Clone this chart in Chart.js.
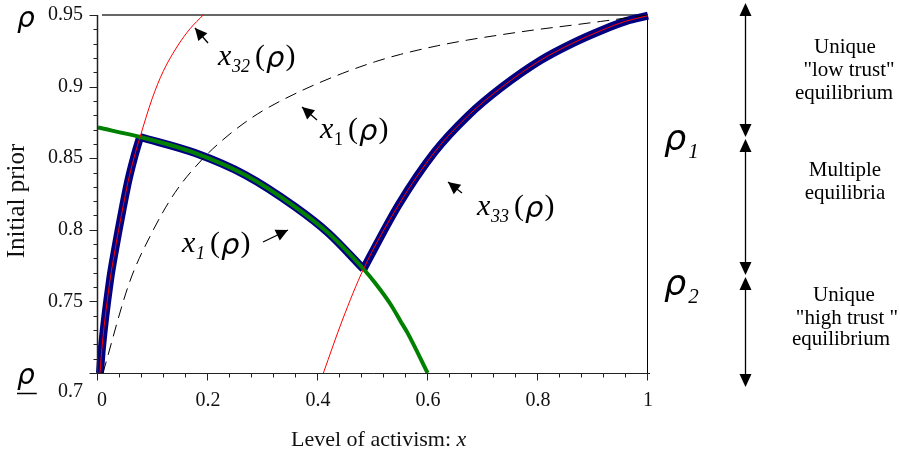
<!DOCTYPE html>
<html><head><meta charset="utf-8">
<script src="https://cdn.jsdelivr.net/npm/chart.js@4.4.1/dist/chart.umd.min.js"></script>
<style>html,body{margin:0;padding:0;background:#fff;overflow:hidden}#wrap{width:900px;height:463px;position:relative}</style>
</head><body><div id="wrap"><canvas id="c" width="900" height="463"></canvas></div>
<script>
// ---- tick values / labels ----
const xTicks = [0, 0.2, 0.4, 0.6, 0.8, 1];
const xTickLabels = ['0', '0.2', '0.4', '0.6', '0.8', '1'];
const yTicks = [0.7, 0.75, 0.8, 0.85, 0.9, 0.95];
const yTickLabels = ['0.7', '0.75', '0.8', '0.85', '0.9', '0.95'];
const xMinorStep = 0.04;
const yMinorStep = 0.01;

// ---- curves (x = level of activism, rho = initial prior) ----
// x1(rho), green branch
const greenX = [0, 0.0765, 0.1767, 0.2678, 0.3588, 0.4189, 0.4827, 0.5046, 0.5319, 0.5501, 0.5628, 0.5993];
const greenY = [0.8714, 0.8648, 0.8536, 0.8383, 0.8159, 0.7977, 0.7726, 0.7625, 0.7480, 0.7362, 0.7280, 0.7000];
// x32(rho), red thin
const x32X = [0.0036, 0.0073, 0.0219, 0.0310, 0.0437, 0.0546, 0.0656, 0.0765, 0.0984, 0.1184, 0.1457, 0.1676, 0.1913];
const x32Y = [0.7000, 0.7182, 0.7649, 0.7860, 0.8125, 0.8335, 0.8505, 0.8648, 0.8915, 0.9105, 0.9290, 0.9405, 0.9500];
// x33(rho), red thin
const x33X = [0.4098, 0.4444, 0.4827, 0.5464, 0.6120, 0.6740, 0.7341, 0.8051, 0.8634, 0.9162, 0.9599, 1.0];
const x33Y = [0.7000, 0.7370, 0.7726, 0.8173, 0.8543, 0.8801, 0.8996, 0.9185, 0.9304, 0.9394, 0.9457, 0.9495];
// x1(rho), dashed
const x1X = [0.009, 0.057, 0.098, 0.140, 0.189, 0.226, 0.262, 0.299, 0.372, 0.444, 0.505, 0.550, 0.617, 0.672, 0.738, 0.792, 0.860, 0.914, 1.000];
const x1Y = [0.700, 0.763, 0.798, 0.826, 0.849, 0.8625, 0.8735, 0.8830, 0.8975, 0.9092, 0.9175, 0.9225, 0.9285, 0.9325, 0.9365, 0.9395, 0.9428, 0.9455, 0.950];
// junctions of the stable (blue) branch
const junctionX = [0.0765, 0.4827];

const pts = (xs, ys) => xs.map((v, i) => ({x: v, y: ys[i]}));
const blueA = pts(x32X, x32Y).filter(p => p.x <= junctionX[0]);
const blueB = pts(greenX, greenY).filter(p => p.x >= junctionX[0] && p.x <= junctionX[1]);
const blueC = pts(x33X, x33Y).filter(p => p.x >= junctionX[1]);

const SERIF = '"Liberation Serif", "Times New Roman", serif';
const RHO = '"DejaVu Sans", sans-serif';
const line = (data, color, w, extra) => Object.assign({
  data, showLine: true, borderColor: color, backgroundColor: color, borderWidth: w,
  pointRadius: 0, pointHoverRadius: 0, fill: false, clip: false,
  cubicInterpolationMode: 'monotone', borderCapStyle: 'butt'
}, extra || {});

function arrowHead(ctx, x1, y1, x2, y2, len, half) {
  const a = Math.atan2(y2 - y1, x2 - x1);
  ctx.beginPath();
  ctx.moveTo(x2, y2);
  ctx.lineTo(x2 - len * Math.cos(a) + half * Math.sin(a), y2 - len * Math.sin(a) - half * Math.cos(a));
  ctx.lineTo(x2 - len * Math.cos(a) - half * Math.sin(a), y2 - len * Math.sin(a) + half * Math.cos(a));
  ctx.closePath(); ctx.fill();
}
function arrow(ctx, x1, y1, x2, y2) {
  ctx.beginPath(); ctx.moveTo(x1, y1); ctx.lineTo(x2, y2); ctx.stroke();
  arrowHead(ctx, x1, y1, x2, y2, 12, 6);
}
function mathLabel(ctx, x0, base, sub, subItalic) {
  const big = '30px ' + SERIF, bigI = 'italic 30px ' + SERIF;
  const subF = (subItalic ? 'italic ' : '') + '18px ' + SERIF;
  ctx.font = bigI; ctx.fillText('x', x0, base);
  ctx.font = subF; ctx.fillText(sub, x0 + 14, base + 7);
  const sw = ctx.measureText(sub).width;
  let px = x0 + 14 + sw + 5;
  ctx.font = big; ctx.fillText('(', px, base);
  px += ctx.measureText('(').width + 1;
  ctx.font = 'italic 29px ' + RHO; ctx.fillText('\u03C1', px, base + 2);
  px += ctx.measureText('\u03C1').width + 1;
  ctx.font = big; ctx.fillText(')', px, base);
}
function rhoSub(ctx, x0, base, size, sub) {
  ctx.font = 'italic ' + size + 'px ' + RHO;
  ctx.fillText('\u03C1', x0, base);
  const w = ctx.measureText('\u03C1').width;
  if (sub) { ctx.font = 'italic 21px ' + SERIF; ctx.fillText(sub, x0 + w + 2, base + 8); }
  return w;
}

const annot = {
  id: 'annot',
  beforeDatasetsDraw(chart) {
    const {ctx, scales: {x, y}} = chart;
    ctx.save();
    ctx.strokeStyle = '#666'; ctx.lineWidth = 2;
    ctx.beginPath();
    ctx.moveTo(x.getPixelForValue(0) + 4, y.getPixelForValue(0.95));
    ctx.lineTo(x.getPixelForValue(1), y.getPixelForValue(0.95));
    ctx.stroke();
    ctx.strokeStyle = '#000'; ctx.lineWidth = 1;
    const xr = Math.round(x.getPixelForValue(1)) - 0.5;
    ctx.beginPath(); ctx.moveTo(xr, y.getPixelForValue(0.95)); ctx.lineTo(xr, y.getPixelForValue(0.7)); ctx.stroke();
    ctx.restore();
  },
  afterDatasetsDraw(chart) {
    const {ctx, scales: {x, y}} = chart;
    ctx.save();
    const x0 = Math.round(x.getPixelForValue(0)) - 0.5;
    const yb = Math.round(y.getPixelForValue(0.7)) + 0.5;
    // axes
    ctx.strokeStyle = '#222'; ctx.lineWidth = 1;
    ctx.beginPath(); ctx.moveTo(x0, yb); ctx.lineTo(x.getPixelForValue(1) + 2, yb); ctx.stroke();
    ctx.lineWidth = 1.5;
    ctx.beginPath(); ctx.moveTo(x0, y.getPixelForValue(0.95)); ctx.lineTo(x0, yb); ctx.stroke();
    ctx.lineWidth = 1;
    // x ticks
    const nx = Math.round(1 / xMinorStep);
    for (let i = 0; i <= nx; i++) {
      const px = Math.round(x.getPixelForValue(i * xMinorStep)) - 0.5;
      const L = (i % 5 === 0) ? 7 : 4;
      ctx.beginPath(); ctx.moveTo(px, yb); ctx.lineTo(px, yb + L); ctx.stroke();
    }
    // y ticks
    const ny = Math.round(0.25 / yMinorStep);
    for (let i = 0; i <= ny; i++) {
      const py = Math.round(y.getPixelForValue(0.7 + i * yMinorStep)) + 0.5;
      const L = (i % 5 === 0) ? 8 : 4;
      ctx.beginPath(); ctx.moveTo(x0, py); ctx.lineTo(x0 - L, py); ctx.stroke();
    }
    // tick labels
    ctx.fillStyle = '#111';
    ctx.font = '20px ' + SERIF;
    ctx.textAlign = 'center'; ctx.textBaseline = 'middle';
    xTicks.forEach((v, i) => {
      ctx.fillText(xTickLabels[i], x.getPixelForValue(v) + (i === 0 ? 4 : 0), 401);
    });
    ctx.textAlign = 'right';
    yTicks.forEach((v, i) => {
      ctx.fillText(yTickLabels[i], 83, y.getPixelForValue(v) + (v === 0.7 ? 19 : 0));
    });
    // axis titles
    ctx.textAlign = 'left'; ctx.textBaseline = 'alphabetic';
    ctx.font = '22px ' + SERIF;
    const t1 = 'Level of activism: ';
    ctx.fillText(t1, 291, 446);
    const w1 = ctx.measureText(t1).width;
    ctx.font = 'italic 22px ' + SERIF; ctx.fillText('x', 291 + w1, 446);
    ctx.save();
    ctx.translate(24, 201); ctx.rotate(-Math.PI / 2);
    ctx.font = '25px ' + SERIF; ctx.textAlign = 'center';
    ctx.fillText('Initial prior', 0, 0);
    ctx.restore();

    // curve labels + arrows
    ctx.fillStyle = '#000'; ctx.strokeStyle = '#000'; ctx.lineWidth = 1.3;
    ctx.textAlign = 'left';
    mathLabel(ctx, 218, 65, '32', true);
    mathLabel(ctx, 320, 138, '1', false);
    mathLabel(ctx, 182, 252, '1', true);
    mathLabel(ctx, 477, 215, '33', true);
    arrow(ctx, 208, 43, 195, 28);
    arrow(ctx, 317, 120, 302, 107);
    arrow(ctx, 263, 242, 288, 230);
    arrow(ctx, 462, 193, 448, 182);

    // rho labels
    rhoSub(ctx, 17, 27, 28, '');
    const wr = rhoSub(ctx, 17, 384, 28, '');
    ctx.lineWidth = 1.5;
    ctx.beginPath(); ctx.moveTo(17, 393.5); ctx.lineTo(17 + wr + 2, 393.5); ctx.stroke();
    rhoSub(ctx, 664, 150, 35, '1');
    rhoSub(ctx, 664, 295, 35, '2');

    // right side regime arrows
    ctx.lineWidth = 1.3;
    const ax = 745.5;
    const seg = [[3, 137], [139, 275], [277, 387]];
    seg.forEach(([a, b]) => {
      ctx.beginPath(); ctx.moveTo(ax, a + 6); ctx.lineTo(ax, b - 6); ctx.stroke();
      arrowHead(ctx, ax, a + 20, ax, a, 13, 6);
      arrowHead(ctx, ax, b - 20, ax, b, 13, 6);
    });
    ctx.font = '21px ' + SERIF; ctx.textAlign = 'center';
    [['Unique', 845, 53], ['"low trust"', 849, 76], ['equilibrium', 844, 99],
     ['Multiple', 845, 176], ['equilibria', 845, 199],
     ['Unique', 844, 301], ['"high trust "', 847, 324], ['equilibrium', 841, 345]]
      .forEach(([t, px, py]) => ctx.fillText(t, px, py));
    ctx.restore();
  }
};

new Chart(document.getElementById('c'), {
  type: 'scatter',
  data: {
    datasets: [
      line(pts(x32X, x32Y), '#ff0000', 1),
      line(pts(x33X, x33Y), '#ff0000', 1),
      line(pts(x1X, x1Y), '#000000', 1, {borderDash: [12, 7]}),
      line(pts(greenX, greenY), '#008000', 4),
      line(blueA, '#000080', 8),
      line(blueB, '#000080', 8),
      line(blueC, '#000080', 8)
    ]
  },
  options: {
    responsive: false, animation: false, events: [],
    layout: {padding: {left: 98, right: 252, top: 15, bottom: 90}},
    scales: {
      x: {type: 'linear', min: 0, max: 1, display: false},
      y: {type: 'linear', min: 0.7, max: 0.95, display: false}
    },
    plugins: {legend: {display: false}, tooltip: {enabled: false}}
  },
  plugins: [annot]
});
</script></body></html>
